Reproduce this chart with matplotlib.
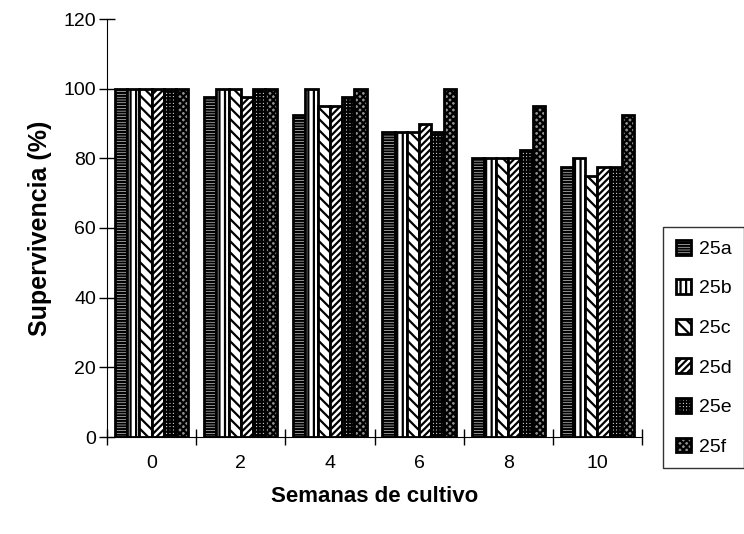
import numpy as np
import matplotlib.pyplot as plt
from matplotlib.patches import Patch

plt.rcParams['font.family'] = ['Liberation Sans', 'DejaVu Sans']
plt.rcParams['hatch.linewidth'] = 1.6

# datos
semanas = ['0', '2', '4', '6', '8', '10']
series = ['25a', '25b', '25c', '25d', '25e', '25f']
s25a = [100, 97.5, 92.5, 87.5, 80, 77.5]
s25b = [100, 100, 100, 87.5, 80, 80]
s25c = [100, 100, 95, 87.5, 80, 75]
s25d = [100, 97.5, 95, 90, 80, 77.5]
s25e = [100, 100, 97.5, 87.5, 82.5, 77.5]
s25f = [100, 100, 100, 100, 95, 92.5]
valores = [s25a, s25b, s25c, s25d, s25e, s25f]

hatches = ['------', '|||', '\\\\\\', '/////', '+++++', 'xxxxx']
faces = ['white', 'white', 'white', 'white', 'white', '#909090']

fig = plt.figure(figsize=(7.44, 5.34), dpi=100)
ax = fig.add_axes([107/744, 1 - 437/534, 535/744, 418/534])

x = np.arange(len(semanas))
w = 0.137
for i, (nombre, v) in enumerate(zip(series, valores)):
    ax.bar(x + (i - 2.5) * w, v, w, facecolor=faces[i], edgecolor='black',
           hatch=hatches[i], linewidth=2, label=nombre)

ax.set_xlim(-0.5, 5.5)
ax.set_ylim(0, 120)
ax.set_yticks(range(0, 121, 20))
ax.set_xticks(x)
ax.set_xticklabels(semanas, fontsize=14)
ax.set_xticks(np.arange(-0.5, 6, 1), minor=True)
ax.tick_params(axis='x', which='major', length=0, pad=13)
ax.tick_params(axis='x', which='minor', direction='inout', length=12, width=1)
ax.tick_params(axis='y', direction='inout', length=12, width=1, labelsize=14, pad=2)
for s in ['top', 'right']:
    ax.spines[s].set_visible(False)

ax.set_xlabel('Semanas de cultivo', fontsize=16, fontweight='bold', labelpad=10)
ax.set_ylabel('Supervivencia (%)', fontsize=18, fontweight='bold', labelpad=8)

handles = [Patch(facecolor=faces[i], edgecolor='black', hatch=hatches[i], linewidth=2)
           for i in range(len(series))]
leg = fig.legend(handles, series, loc='upper left', bbox_to_anchor=(663/744, 1 - 227/534),
                 fontsize=14, frameon=True, fancybox=False, edgecolor='black',
                 handlelength=0.8, handleheight=0.8, handletextpad=0.4,
                 labelspacing=1.1, borderpad=0.65, borderaxespad=0)
leg.get_frame().set_linewidth(1)

fig.savefig('out.png', dpi=100)
